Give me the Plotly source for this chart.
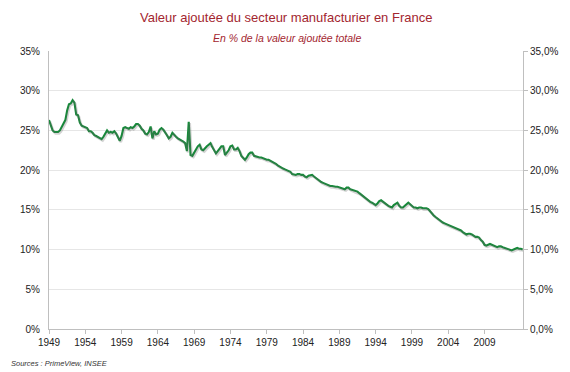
import plotly.graph_objects as go

title = "Valeur ajoutée du secteur manufacturier en France"
subtitle = "En % de la valeur ajoutée totale"
source = "Sources : PrimeView, INSEE"

start_year = 1949  # quarterly series, first value = 1949 Q1
share_pct = [
    26.3, 25.6, 25.0, 24.8,  # 1949
    24.8, 24.8, 25.0, 25.5,  # 1950
    25.8, 26.3, 27.5, 28.3,  # 1951
    28.4, 28.8, 28.5, 27.0,  # 1952
    26.9, 26.0, 25.6, 25.5,  # 1953
    25.5, 25.3, 24.9, 24.9,  # 1954
    24.7, 24.4, 24.3, 24.2,  # 1955
    24.1, 23.9, 24.2, 24.6,  # 1956
    25.0, 24.7, 24.8, 24.7,  # 1957
    24.9, 24.6, 24.2, 23.7,  # 1958
    24.3, 25.3, 25.4, 25.3,  # 1959
    25.2, 25.4, 25.3, 25.5,  # 1960
    25.8, 25.8, 25.6, 25.2,  # 1961
    25.0, 24.6, 24.5, 24.8,  # 1962
    25.5, 24.0, 24.9, 24.5,  # 1963
    24.6, 25.1, 25.3, 25.1,  # 1964
    24.8, 24.4, 24.0, 24.2,  # 1965
    24.7, 24.4, 24.2, 24.0,  # 1966
    23.9, 23.7, 23.6, 23.4,  # 1967
    22.4, 26.1, 21.9, 21.8,  # 1968
    22.2, 22.6, 23.0, 23.2,  # 1969
    22.6, 22.5, 22.8, 23.0,  # 1970
    23.2, 23.4, 22.9, 22.5,  # 1971
    22.1, 22.4, 22.7, 23.0,  # 1972
    23.0, 21.9, 22.2, 22.5,  # 1973
    23.0, 23.1, 22.6, 22.6,  # 1974
    22.8, 22.4, 21.8, 21.5,  # 1975
    21.3, 21.6, 22.0, 22.2,  # 1976
    22.2, 21.8, 21.7, 21.7,  # 1977
    21.6, 21.6, 21.5, 21.3,  # 1978
    21.3, 21.3, 21.2, 21.0,  # 1979
    20.9, 20.8, 20.6, 20.5,  # 1980
    20.4, 20.2, 20.1, 20.0,  # 1981
    20.0, 19.8, 19.5, 19.4,  # 1982
    19.4, 19.5, 19.5, 19.4,  # 1983
    19.4, 19.2, 19.1, 19.3,  # 1984
    19.4, 19.4, 19.2, 19.0,  # 1985
    18.9, 18.7, 18.5, 18.4,  # 1986
    18.3, 18.2, 18.1, 18.0,  # 1987
    18.0, 17.9, 17.9, 17.9,  # 1988
    17.8, 17.7, 17.6, 17.6,  # 1989
    17.8, 17.8, 17.6, 17.5,  # 1990
    17.5, 17.4, 17.3, 17.1,  # 1991
    16.9, 16.7, 16.5, 16.3,  # 1992
    16.2, 16.0, 15.9, 15.7,  # 1993
    15.6, 15.8, 16.1, 16.2,  # 1994
    16.0, 15.8, 15.7, 15.5,  # 1995
    15.4, 15.3, 15.6, 15.8,  # 1996
    15.9, 15.5, 15.3, 15.3,  # 1997
    15.5, 15.8, 15.9, 15.7,  # 1998
    15.5, 15.3, 15.3, 15.2,  # 1999
    15.3, 15.3, 15.2, 15.2,  # 2000
    15.2, 15.1, 14.8, 14.5,  # 2001
    14.3, 14.1, 13.9, 13.7,  # 2002
    13.6, 13.4, 13.3, 13.2,  # 2003
    13.1, 13.0, 12.9, 12.8,  # 2004
    12.8, 12.7, 12.6, 12.4,  # 2005
    12.2, 12.0, 11.9, 12.0,  # 2006
    12.0, 11.9, 11.7, 11.6,  # 2007
    11.6, 11.5, 11.2, 11.0,  # 2008
    10.6, 10.5, 10.6, 10.7,  # 2009
    10.6, 10.5, 10.4, 10.3,  # 2010
    10.4, 10.4, 10.3, 10.2,  # 2011
    10.1, 10.0, 9.9, 9.9,    # 2012
    10.0, 10.1, 10.2, 10.1,  # 2013
    10.1, 10.0,              # 2014
]

x_tick_years = [1949, 1954, 1959, 1964, 1969, 1974, 1979, 1984, 1989, 1994, 1999, 2004, 2009]
y_ticks = [0, 5, 10, 15, 20, 25, 30, 35]
y_left_labels = [f"{v}%" for v in y_ticks]
y_right_labels = [f"{v},0%" for v in y_ticks]

x_vals = [start_year + i / 4 for i in range(len(share_pct))]

# the page body adds an 8 px offset; size the figure so the plot lands where the reference has it
OFF = 8
W, H = 570 - OFF, 372 - OFF
ML, MR, MT, MB = 48 - OFF, 43, 51 - OFF, 43
plot_w = W - ML - MR
plot_h = H - MT - MB

def px(pix):  # page pixel -> paper x
    return (pix - OFF - ML) / plot_w

def py(pix):  # page pixel -> paper y
    return (H - MB - (pix - OFF)) / plot_h

fig = go.Figure()
# soft shadow under the line
fig.add_trace(go.Scatter(x=x_vals, y=share_pct, mode="lines", yaxis="y3", xaxis="x2",
                         line=dict(color="rgba(100,100,100,0.28)", width=2.4),
                         hoverinfo="skip", showlegend=False))
fig.add_trace(go.Scatter(x=x_vals, y=share_pct, mode="lines",
                         line=dict(color="#168A3A", width=2.1),
                         showlegend=False))
fig.add_trace(go.Scatter(x=x_vals, y=share_pct, mode="lines", yaxis="y2",
                         line=dict(color="rgba(0,0,0,0)", width=0),
                         hoverinfo="skip", showlegend=False))

xr = [1949, 2014.3]
tickfont = dict(family="Liberation Sans, Arial", size=10, color="#222222")
fig.update_layout(
    width=W, height=H,
    margin=dict(l=ML, r=MR, t=MT, b=MB),
    paper_bgcolor="white", plot_bgcolor="white",
    xaxis=dict(range=xr, tickvals=x_tick_years, ticktext=[str(y) for y in x_tick_years],
               showgrid=False, zeroline=False, showline=True, linecolor="#BFBFBF",
               linewidth=1, ticks="outside", ticklen=4, tickcolor="#BFBFBF",
               tickfont=tickfont),
    xaxis2=dict(range=[xr[0] - 0.15, xr[1] - 0.15], overlaying="x", visible=False),
    yaxis=dict(range=[0, 35], tickvals=y_ticks, ticktext=y_left_labels,
               showgrid=True, gridcolor="#E6E6E6", gridwidth=1, zeroline=False,
               showline=True, linecolor="#BFBFBF", linewidth=1,
               ticks="", tickfont=tickfont, ticklabelstandoff=6),
    yaxis2=dict(range=[0, 35], tickvals=y_ticks, ticktext=y_right_labels,
                overlaying="y", side="right", showgrid=False, zeroline=False,
                showline=True, linecolor="#BFBFBF", linewidth=1,
                ticks="outside", ticklen=4, tickcolor="#BFBFBF",
                tickfont=tickfont),
    yaxis3=dict(range=[0.18, 35.18], overlaying="y", visible=False),
)
fig.add_annotation(text=title, x=px(287), xref="paper", xanchor="center",
                   y=py(17), yref="paper", yanchor="middle", showarrow=False,
                   font=dict(family="Liberation Sans, Arial", size=13, color="#A3262F"))
fig.add_annotation(text=f"<i>{subtitle}</i>", x=px(289), xref="paper", xanchor="center",
                   y=py(38), yref="paper", yanchor="middle", showarrow=False,
                   font=dict(family="Liberation Sans, Arial", size=10.5, color="#A3262F"))
fig.add_annotation(text=f"<i>{source}</i>", x=px(8), xref="paper",
                   xanchor="left", y=py(363), yref="paper", yanchor="middle",
                   showarrow=False,
                   font=dict(family="Liberation Sans, Arial", size=7.5, color="#333333"))

fig.write_html("out.html")
